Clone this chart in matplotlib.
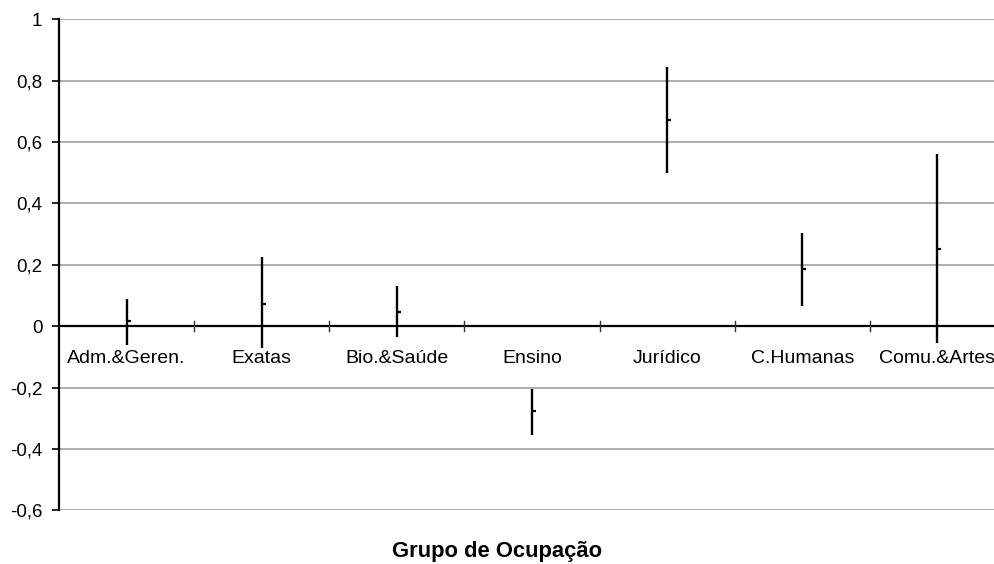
import matplotlib
matplotlib.use("Agg")
import matplotlib.pyplot as plt

plt.rcParams['font.family'] = ['Liberation Sans', 'DejaVu Sans']

grupos = ['Adm.&Geren.', 'Exatas', 'Bio.&Saúde', 'Ensino',
          'Jurídico', 'C.Humanas', 'Comu.&Artes']
maximo = [0.09, 0.226, 0.132, -0.204, 0.846, 0.304, 0.561]
minimo = [-0.062, -0.071, -0.035, -0.353, 0.499, 0.065, -0.055]
media = [0.016, 0.073, 0.046, -0.275, 0.672, 0.186, 0.253]

y_ticks = [-0.6, -0.4, -0.2, 0, 0.2, 0.4, 0.6, 0.8, 1]
y_labels = ['-0,6', '-0,4', '-0,2', '0', '0,2', '0,4', '0,6', '0,8', '1']

fig = plt.figure(figsize=(9.94, 5.64), dpi=100)
ax = fig.add_axes([0.0594, 0.0949, 0.9517, 0.8709])

x = list(range(len(grupos)))

# grade horizontal
for v in y_ticks:
    if v != 0:
        ax.axhline(v, color='#a0a0a0', lw=1.2, zorder=1)

# eixo das categorias em y = 0, com marcas entre grupos
ax.axhline(0, color='black', lw=1.6, zorder=2)
for b in range(1, len(grupos)):
    ax.plot([b - 0.5, b - 0.5], [-0.016, 0.016], color='#303030', lw=1.0, zorder=2)

# linhas máximo-mínimo e marca da média
ax.vlines(x, minimo, maximo, color='black', lw=1.7, zorder=3)
ax.plot(x, media, linestyle='none', marker=1, markersize=3, mew=1.6,
        color='black', zorder=3)

for i, g in enumerate(grupos):
    ax.annotate(g, (i, 0), xytext=(0, -17), textcoords='offset points',
                ha='center', va='top', fontsize=14)

ax.set_xlim(-0.5, len(grupos) - 0.5)
ax.set_ylim(-0.6, 1)
ax.set_yticks(y_ticks)
ax.set_yticklabels(y_labels, fontsize=13.5)
ax.set_xticks([])
ax.tick_params(axis='y', length=5, width=1.2, pad=7, direction='out')

for s in ['top', 'right', 'bottom']:
    ax.spines[s].set_visible(False)
ax.spines['left'].set_linewidth(1.6)
ax.spines['left'].set_zorder(4)

fig.text(0.5, 0.004, 'Grupo de Ocupação', ha='center', va='bottom',
         fontsize=15.8, fontweight='bold')

fig.savefig('out.png', dpi=100)
